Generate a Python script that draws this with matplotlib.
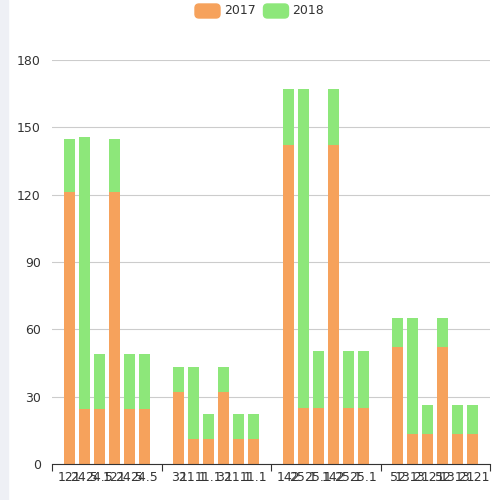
import matplotlib
matplotlib.use("Agg")
import matplotlib.pyplot as plt
from matplotlib.patches import FancyBboxPatch
import numpy as np

groups = 4
v2017 = [[121, 24.5, 24.5, 121, 24.5, 24.5],
         [32, 11.1, 11.1, 32, 11.1, 11.1],
         [142, 25.1, 25.1, 142, 25.1, 25.1],
         [52, 13.21, 13.21, 52, 13.21, 13.21]]
v2018 = [[24, 121, 24.5, 24, 24.5, 24.5],
         [11.1, 32, 11.1, 11.1, 11.1, 11.1],
         [25.1, 142, 25.1, 25.1, 25.1, 25.1],
         [13.21, 52, 13.21, 13.21, 13.21, 13.21]]
labels = [["121", "24.5", "24.5", "121", "24.5", "24.5"],
          ["32", "11.1", "11.1", "32", "11.1", "11.1"],
          ["142", "25.1", "25.1", "142", "25.1", "25.1"],
          ["52", "13.21", "13.21", "52", "13.21", "13.21"]]
c17, c18 = "#f6a25c", "#8de77a"

fig = plt.figure(figsize=(5, 5), dpi=100)
fig.patches.append(plt.Rectangle((0, 0), 0.016, 1, transform=fig.transFigure, color="#eef0f5", zorder=-1))
ax = fig.add_axes([0.104, 0.072, 0.876, 0.808])
offs = (np.arange(6) - 2.5) * 15 / 109.5
w = 11 / 109.5
for g in range(groups):
    x = g + 0.5 + offs
    ax.bar(x, v2017[g], w, color=c17, zorder=2)
    ax.bar(x, v2018[g], w, bottom=v2017[g], color=c18, zorder=2)
    for xi, t in zip(x, labels[g]):
        ax.text(xi, -3, t, ha="center", va="top", fontsize=9, color="#333333")
ax.set_xlim(0, 4)
ax.set_ylim(0, 180)
ax.set_yticks(range(0, 181, 30))
ax.set_xticks(range(5))
ax.set_xticklabels([])
ax.tick_params(axis="x", length=5, color="#333333")
ax.tick_params(axis="y", length=0, labelsize=9, labelcolor="#333333", pad=8)
ax.grid(axis="y", color="#cccccc", lw=0.8, zorder=0)
for s in ["top", "right", "left"]:
    ax.spines[s].set_visible(False)
ax.spines["bottom"].set_color("#333333")
for xp, c, t in [(0.39, c17, "2017"), (0.527, c18, "2018")]:
    fig.patches.append(FancyBboxPatch((xp, 0.964), 0.05, 0.028, boxstyle="round,pad=0,rounding_size=0.008",
                                      transform=fig.transFigure, color=c))
    fig.text(xp + 0.058, 0.978, t, va="center", fontsize=9, color="#333333")
fig.savefig("out.png")
